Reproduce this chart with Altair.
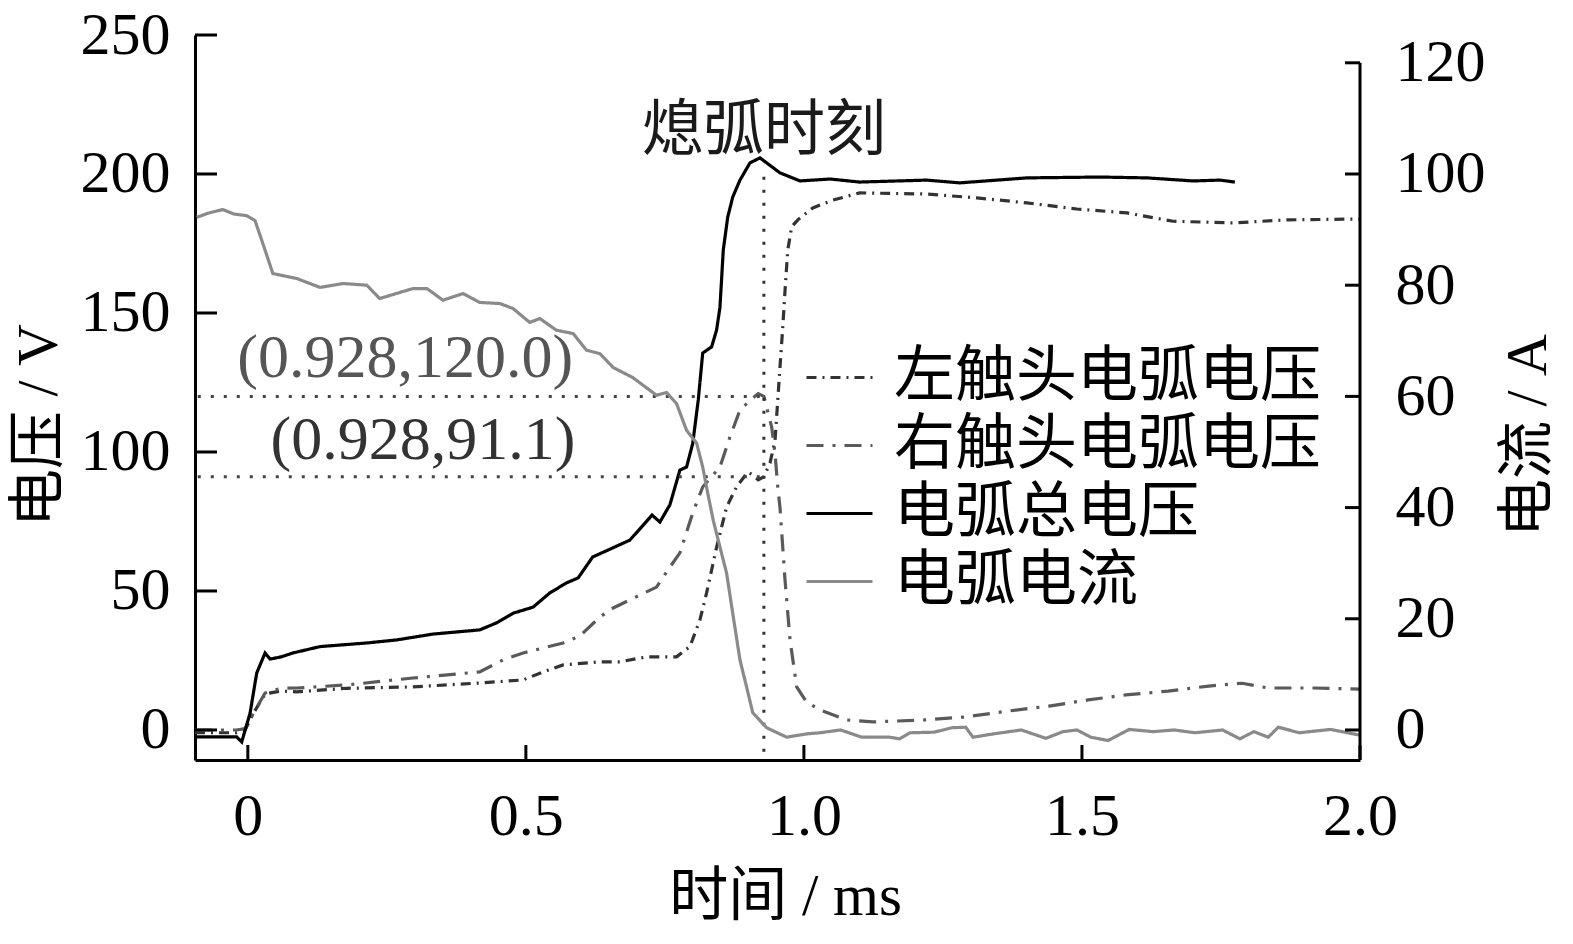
import altair as alt
import pandas as pd

# ---------------- data ----------------
series_names = ["左触头电弧电压", "右触头电弧电压", "电弧总电压", "电弧电流"]

# total arc voltage (V)
t_total = [-0.095, -0.05, -0.02, -0.011, 0.004, 0.016, 0.031, 0.04, 0.06, 0.081,
           0.13, 0.214, 0.268, 0.333, 0.417, 0.447, 0.477, 0.513, 0.543, 0.573,
           0.594, 0.62, 0.687, 0.727, 0.741, 0.759, 0.772, 0.777, 0.789, 0.8,
           0.81, 0.818, 0.834, 0.843, 0.849, 0.855, 0.863, 0.872, 0.885, 0.903,
           0.921, 0.957, 0.993, 1.047, 1.1, 1.221, 1.28, 1.401, 1.532, 1.617,
           1.7, 1.748, 1.775]
v_total = [-2.5, -2.5, -2.5, -4.3, 6, 20.5, 27.7, 25.5, 26.3, 27.7,
           30, 31.3, 32.4, 34.5, 36, 38.5, 42, 44.2, 49.3, 52.9,
           54.7, 62.2, 68.3, 77.3, 74.8, 81, 90, 93.5, 94.6, 103,
           118.7, 135.6, 137.8, 143.9, 152, 172.7, 184.5, 191.7, 197.8, 204,
           205.8, 200.4, 197.5, 198.2, 197.1, 197.8, 196.8, 198.6, 198.9, 198.6,
           197.5, 197.8, 197.1]

# right contact arc voltage (V)
t_right = [-0.095, -0.02, -0.005, 0.01, 0.031, 0.06, 0.088, 0.178, 0.297, 0.417,
           0.459, 0.495, 0.567, 0.597, 0.633, 0.657, 0.687, 0.735, 0.759, 0.777,
           0.8, 0.818, 0.849, 0.867, 0.885, 0.908, 0.918, 0.928, 0.942, 0.948,
           0.953, 0.957, 0.966, 0.975, 0.987, 1.005, 1.029, 1.077, 1.124, 1.216,
           1.291, 1.367, 1.441, 1.511, 1.579, 1.655, 1.728, 1.788, 1.835, 1.917,
           2.0]
v_right = [0, 0, 0.5, 6, 13.3, 15, 15.1, 16.2, 18.7, 20.9,
           25.2, 27.7, 31.3, 33.8, 40.6, 43.9, 46.8, 51.4, 58.6, 63.7,
           78, 87.4, 94.6, 105.4, 115.1, 119.4, 121.0, 120.0, 109, 99.6,
           87.4, 80, 54, 32.4, 15.5, 10, 7.2, 3.6, 2.9, 3.6,
           4.7, 6.8, 8.6, 10.8, 12.6, 14, 15.8, 16.8, 15.1, 15.1,
           14.7]

# left contact arc voltage (V)
t_left = [-0.095, -0.02, -0.005, 0.01, 0.031, 0.06, 0.088, 0.178, 0.297, 0.417,
          0.495, 0.531, 0.567, 0.633, 0.669, 0.717, 0.771, 0.795, 0.813, 0.825,
          0.843, 0.861, 0.879, 0.899, 0.908, 0.918, 0.928, 0.939, 0.948, 0.953,
          0.957, 0.962, 0.966, 0.971, 0.978, 0.989, 1.016, 1.052, 1.1, 1.221,
          1.311, 1.401, 1.491, 1.581, 1.664, 1.772, 1.869, 2.0]
v_left = [-1, -1, 0, 6, 13, 14, 13.7, 15, 15.5, 16.9,
          18, 20.9, 23.4, 24.5, 24.5, 26.3, 26.3, 30, 39.6, 49.3,
          65.8, 80.2, 87.5, 92.8, 91.7, 90.0, 91.1, 96, 104, 118.7,
          130.6, 145, 158, 172.7, 181, 183.5, 187.8, 190.6, 193.2, 192.8,
          191.4, 189.6, 187.4, 186, 183, 182.4, 183.5, 183.8]

# arc current (A)
t_cur = [-0.092, -0.07, -0.045, -0.025, -0.002, 0.013, 0.027, 0.045, 0.088, 0.13,
         0.171, 0.214, 0.237, 0.297, 0.322, 0.351, 0.387, 0.417, 0.453, 0.477,
         0.507, 0.525, 0.555, 0.585, 0.609, 0.633, 0.657, 0.692, 0.735, 0.753,
         0.771, 0.789, 0.807, 0.818, 0.827, 0.837, 0.849, 0.861, 0.872, 0.885,
         0.897, 0.908, 0.933, 0.969, 1.005, 1.029, 1.066, 1.104, 1.154, 1.172,
         1.191, 1.234, 1.266, 1.291, 1.304, 1.341, 1.391, 1.435, 1.466, 1.491,
         1.516, 1.547, 1.585, 1.628, 1.666, 1.703, 1.753, 1.784, 1.809, 1.835,
         1.853, 1.891, 1.947, 1.998]
a_cur = [92.2, 93, 93.6, 92.8, 92.5, 91.6, 87.5, 82.1, 81.2, 79.6,
         80.3, 80, 77.6, 79.4, 79.4, 77.3, 78.5, 76.9, 76.7, 75.8,
         73.3, 74, 71.9, 71.3, 68.3, 67.7, 65.2, 63.4, 60.2, 60.7,
         58.7, 53.9, 51.6, 47.3, 42.6, 37.7, 32.9, 28.2, 21, 12.6,
         7.7, 3.1, 0.4, -1.3, -0.7, -0.5, 0, -1.3, -1.3, -1.6,
         -0.5, -0.4, 0.4, 0.5, -1.3, -0.7, 0, -1.5, -0.3, 0,
         -1.3, -1.9, 0.1, -0.3, 0, -0.5, 0, -1.6, -0.3, -1.3,
         0.5, -0.5, 0.1, -0.9]

x_ticks = [0, 0.5, 1.0, 1.5, 2.0]
v_ticks = [0, 50, 100, 150, 200, 250]
a_ticks = [0, 20, 40, 60, 80, 100, 120]

t_ext = 0.928                    # arc extinction instant
ext_values = [120.0, 91.1]       # contact voltages at extinction
ext_labels = ["(0.928,120.0)", "(0.928,91.1)"]
ext_title = "熄弧时刻"

# ---------------- styles ----------------
colors = ["#333333", "#5a5a5a", "#000000", "#8a8a8a"]
dashes = [[10, 6, 2, 6], [17, 9, 3, 9], [1, 0], [1, 0]]

W, H = 1165, 725
X_DOMAIN = [-0.095, 2.0]
V_DOMAIN = [-10.8, 250]
A_DOMAIN = [-5.4, 125]

NUM_FONT = "Liberation Serif"
MIX_FONT = "Liberation Serif, Noto Sans CJK SC"
CJK_FONT = "Noto Sans CJK SC"

xs = alt.Scale(domain=X_DOMAIN, nice=False, zero=False)
vs = alt.Scale(domain=V_DOMAIN, nice=False, zero=False)
ascale = alt.Scale(domain=A_DOMAIN, nice=False, zero=False)

x_axis = alt.Axis(values=x_ticks,
                  labelExpr="datum.value == 0 ? '0' : format(datum.value, '.1f')",
                  ticks=False, tickSize=0, grid=False,
                  domain=True, domainColor="black", domainWidth=3,
                  labelFont=NUM_FONT, labelFontSize=60, labelColor="black",
                  labelPadding=27, labelOverlap=False, labelFlush=False,
                  title="时间 / ms", titleFont=MIX_FONT, titleFontSize=59,
                  titleFontWeight="normal", titleColor="black",
                  titleX=590, titleY=136, titleBaseline="middle", titleAlign="center")

v_axis = alt.Axis(orient="left", values=v_ticks, format="d",
                  ticks=False, tickSize=0, grid=False,
                  domain=True, domainColor="black", domainWidth=3,
                  labelFont=NUM_FONT, labelFontSize=60, labelColor="black",
                  labelPadding=25, labelOverlap=False, labelFlush=False,
                  title="电压 / V", titleFont=MIX_FONT, titleFontSize=58,
                  titleFontWeight="normal", titleColor="black", titleAngle=270,
                  titleX=-156, titleY=390, titleBaseline="middle", titleAlign="center")

a_axis = alt.Axis(orient="right", values=a_ticks, format="d",
                  ticks=False, tickSize=0, grid=False, domain=False,
                  labelFont=NUM_FONT, labelFontSize=60, labelColor="black",
                  labelPadding=35, labelOverlap=False, labelFlush=False,
                  title="电流 / A", titleFont=MIX_FONT, titleFontSize=58,
                  titleFontWeight="normal", titleColor="black", titleAngle=270,
                  titleX=168, titleY=400, titleBaseline="middle", titleAlign="center")

leg = alt.Legend(title=None, orient="none", legendX=610, legendY=308,
                 symbolType="stroke", symbolSize=4356, symbolStrokeWidth=3,
                 labelFont=CJK_FONT, labelFontSize=61, labelColor="black",
                 labelOffset=20, rowPadding=3, padding=0, labelLimit=0)

color_enc = alt.Color("series:N", scale=alt.Scale(domain=series_names, range=colors), legend=leg)
dash_enc = alt.StrokeDash("series:N", scale=alt.Scale(domain=series_names, range=dashes), legend=leg)

X = lambda f: alt.X(f, type="quantitative", scale=xs, axis=x_axis)
YV = lambda f: alt.Y(f, type="quantitative", scale=vs, axis=v_axis)
YA = lambda f: alt.Y(f, type="quantitative", scale=ascale, axis=a_axis)

# ---------------- tables ----------------
volt_df = pd.concat([
    pd.DataFrame({"t": t_left, "v": v_left, "series": series_names[0]}),
    pd.DataFrame({"t": t_right, "v": v_right, "series": series_names[1]}),
    pd.DataFrame({"t": t_total, "v": v_total, "series": series_names[2]}),
], ignore_index=True)
cur_df = pd.DataFrame({"t": t_cur, "a": a_cur, "series": series_names[3]})

# ---------------- left (voltage) group ----------------
volt_lines = alt.Chart(volt_df).mark_line(strokeWidth=3.2).encode(
    x=X("t"), y=YV("v"), color=color_enc, strokeDash=dash_enc,
    order=alt.Order("t:Q"))

hdot = alt.Chart(pd.DataFrame({"t0": [X_DOMAIN[0] + 0.005] * 2, "t1": [t_ext] * 2,
                               "v": ext_values})).mark_rule(
    color="#444444", strokeWidth=3, strokeDash=[3, 10]).encode(
    x=X("t0"), x2="t1", y=YV("v"))

vdot = alt.Chart(pd.DataFrame({"t": [t_ext], "v": [199]})).mark_rule(
    color="#333333", strokeWidth=3, strokeDash=[3, 10]).encode(
    x=X("t"), y=YV("v"), y2=alt.value(H))

left_ticks = alt.Chart(pd.DataFrame({"v": v_ticks})).mark_rule(
    color="black", strokeWidth=3).encode(
    y=YV("v"), x=alt.value(0), x2=alt.value(22))

bottom_ticks = alt.Chart(pd.DataFrame({"t": x_ticks})).mark_rule(
    color="black", strokeWidth=3).encode(
    x=X("t"), y=alt.value(H), y2=alt.value(H - 15))

lab120 = alt.Chart(pd.DataFrame({"t": [0.585], "v": [133.8], "txt": [ext_labels[0]]})).mark_text(
    font=NUM_FONT, fontSize=62, color="#555555", align="right", baseline="middle").encode(
    x=X("t"), y=YV("v"), text="txt:N")

lab91 = alt.Chart(pd.DataFrame({"t": [0.589], "v": [104.3], "txt": [ext_labels[1]]})).mark_text(
    font=NUM_FONT, fontSize=62, color="#333333", align="right", baseline="middle").encode(
    x=X("t"), y=YV("v"), text="txt:N")

ext_txt = alt.Chart(pd.DataFrame({"t": [t_ext], "v": [215], "txt": [ext_title]})).mark_text(
    font=CJK_FONT, fontSize=61, color="#1a1a1a", align="center", baseline="middle").encode(
    x=X("t"), y=YV("v"), text="txt:N")

left_group = alt.layer(volt_lines, hdot, vdot, left_ticks, bottom_ticks, lab120, lab91, ext_txt)

# ---------------- right (current) group ----------------
cur_line = alt.Chart(cur_df).mark_line(strokeWidth=3.2).encode(
    x=X("t"), y=YA("a"), color=color_enc, strokeDash=dash_enc,
    order=alt.Order("t:Q"))

right_ticks = alt.Chart(pd.DataFrame({"a": a_ticks})).mark_rule(
    color="black", strokeWidth=3).encode(
    y=YA("a"), x=alt.value(W), x2=alt.value(W - 15))

right_domain = alt.Chart(pd.DataFrame({"a": [max(a_ticks)]})).mark_rule(
    color="black", strokeWidth=3).encode(
    y=YA("a"), y2=alt.value(H), x=alt.value(W))

right_group = alt.layer(cur_line, right_ticks, right_domain)

chart = alt.layer(left_group, right_group).resolve_scale(y="independent").properties(
    width=W, height=H,
    autosize=alt.AutoSizeParams(type="none"),
    padding={"left": 187, "top": 27, "right": 198, "bottom": 168},
    background="white",
).configure_view(stroke=None).configure_axis(grid=False)

chart.save("out.html", embed_options={"renderer": "svg", "actions": False})
